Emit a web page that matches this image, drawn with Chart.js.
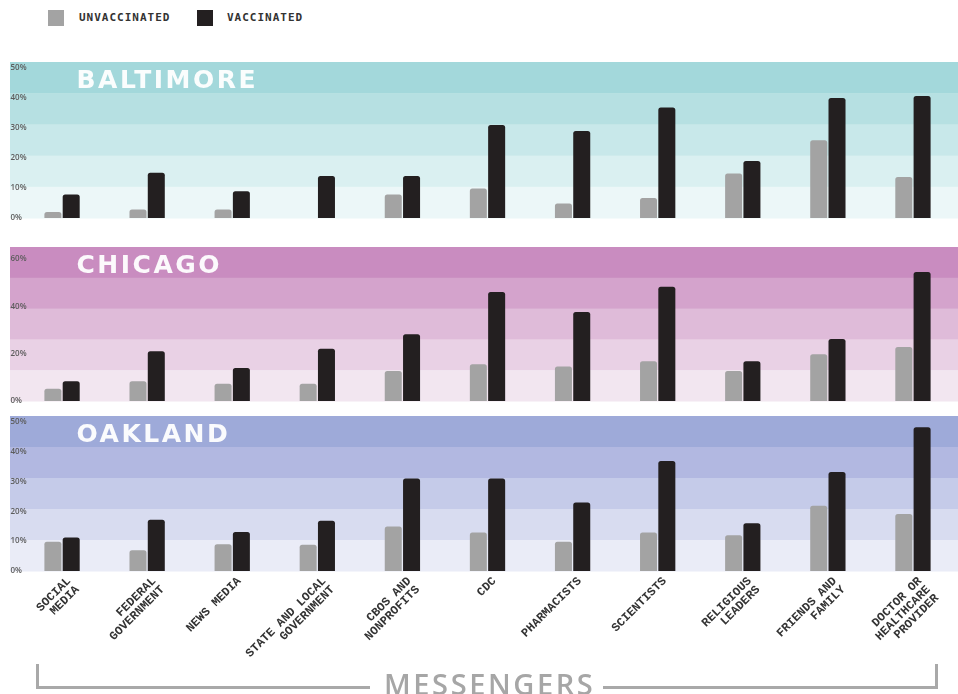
<!DOCTYPE html>
<html>
<head>
<meta charset="utf-8">
<title>Messengers by city</title>
<script src="https://cdn.jsdelivr.net/npm/chart.js@4.4.0/dist/chart.umd.min.js"></script>
<style>
    html, body { margin: 0; padding: 0; background: #fff; }
    body { width: 958px; height: 694px; position: relative; overflow: hidden; }

    .panel { position: absolute; left: 10px; width: 948px; }
    #baltimore-wrap { top: 54px; height: 176px; }
    #chicago-wrap { top: 239px; height: 174px; }
    #oakland-wrap { top: 408px; height: 286px; }

    .legend-box { position: absolute; top: 10px; width: 16px; height: 16px; }
    .legend-text {
        position: absolute; top: 11px; line-height: 14px;
        font: bold 11px "DejaVu Sans Mono", monospace;
        letter-spacing: 1px; color: #333;
    }

    .bracket { position: absolute; top: 664px; height: 22px; border-bottom: 3px solid #a9a9a9; }
    .bracket.left { left: 36px; width: 331px; border-left: 3px solid #a9a9a9; }
    .bracket.right { left: 603px; width: 332px; border-right: 3px solid #a9a9a9; }
    .axis-title {
        position: absolute; left: 384px; top: 664px; line-height: 29px;
        font: 600 29px "Open Sans", sans-serif; letter-spacing: 2.6px; color: #a6a6a6;
    }
</style>
</head>
<body>
    <div class="legend-box" style="left:48px; background:#a3a3a3"></div>
    <div class="legend-text" style="left:79px">UNVACCINATED</div>
    <div class="legend-box" style="left:197px; background:#231f20"></div>
    <div class="legend-text" style="left:227px">VACCINATED</div>

    <div class="panel" id="baltimore-wrap"><canvas id="baltimore-chart"></canvas></div>
    <div class="panel" id="chicago-wrap"><canvas id="chicago-chart"></canvas></div>
    <div class="panel" id="oakland-wrap"><canvas id="oakland-chart"></canvas></div>

    <div class="bracket left"></div>
    <div class="axis-title">MESSENGERS</div>
    <div class="bracket right"></div>

<script>
'use strict';

// Categories (x axis)
const messengers = [
    ['SOCIAL', 'MEDIA'],
    ['FEDERAL', 'GOVERNMENT'],
    'NEWS MEDIA',
    ['STATE AND LOCAL', 'GOVERNMENT'],
    ['CBOS AND', 'NONPROFITS'],
    'CDC',
    'PHARMACISTS',
    'SCIENTISTS',
    ['RELIGIOUS', 'LEADERS'],
    ['FRIENDS AND', 'FAMILY'],
    ['DOCTOR OR', 'HEALTHCARE', 'PROVIDER']
];

// Percent trusting each messenger
const baltimoreUnvaccinated = [2.0, 2.8, 2.8, 0, 7.8, 9.8, 4.8, 6.7, 14.8, 25.9, 13.7];
const baltimoreVaccinated   = [7.8, 15.1, 8.9, 14.0, 14.0, 31.0, 29.0, 36.8, 19.0, 40.0, 40.7];

const chicagoUnvaccinated = [5.2, 8.3, 7.3, 7.3, 12.7, 15.5, 14.6, 16.8, 12.7, 19.7, 22.8];
const chicagoVaccinated   = [8.3, 21.0, 13.9, 22.1, 28.2, 46.0, 37.6, 48.2, 16.8, 26.2, 54.5];

const oaklandUnvaccinated = [9.8, 7.0, 9.0, 8.8, 14.9, 12.9, 9.8, 12.9, 12.0, 21.9, 19.1];
const oaklandVaccinated   = [11.2, 17.2, 13.1, 16.9, 31.0, 31.0, 23.0, 36.9, 16.0, 33.2, 48.2];

// Y tick labels
const baltimoreTicks = [0, 10, 20, 30, 40, 50];
const chicagoTicks = [0, 20, 40, 60];
const oaklandTicks = [0, 10, 20, 30, 40, 50];

// Background stripes, top to bottom
const baltimoreBands = ['#a3d8db', '#b6e0e2', '#c8e8ea', '#daf0f1', '#ecf7f8'];
const chicagoBands = ['#c98cc0', '#d4a3cc', '#dfbbd9', '#e9d1e5', '#f2e6f0'];
const oaklandBands = ['#9eaad9', '#b2b8e1', '#c5cbe9', '#d8dcf0', '#eaecf7'];

const UNVAX_COLOR = '#a3a3a3';
const VAX_COLOR = '#231f20';

// Striped background behind each panel
const bandsPlugin = {
    id: 'bands',
    beforeDraw: function(chart, args, opts) {
        const ctx = chart.ctx;
        const area = chart.chartArea;
        const h = (area.bottom - area.top) / opts.colors.length;
        ctx.save();
        opts.colors.forEach(function(color, i) {
            ctx.fillStyle = color;
            ctx.fillRect(0, area.top + i * h, chart.width, h + 0.5);
        });
        ctx.restore();
    }
};

// Big white city name in the top stripe
const cityTitlePlugin = {
    id: 'cityTitle',
    beforeDatasetsDraw: function(chart, args, opts) {
        const ctx = chart.ctx;
        const area = chart.chartArea;
        ctx.save();
        ctx.font = 'bold 25px "DejaVu Sans", sans-serif';
        ctx.letterSpacing = '2.5px';
        ctx.fillStyle = 'rgba(255,255,255,0.95)';
        ctx.textBaseline = 'alphabetic';
        ctx.textAlign = 'left';
        ctx.fillText(opts.text, area.left + 57, area.top + 26);
        ctx.restore();
    }
};

function createCityChart(canvasId, city, unvaccinated, vaccinated, yMax, tickValues, bands, showLabels) {
    const ctx = document.getElementById(canvasId).getContext('2d');

    const xScale = {
        offset: true,
        grid: { display: false },
        border: { display: false },
        display: showLabels
    };
    if (showLabels) {
        xScale.ticks = {
            autoSkip: false,
            maxRotation: 45,
            minRotation: 45,
            padding: -4,
            labelOffset: 7,
            color: '#333',
            font: { family: '"Liberation Mono", monospace', size: 12, weight: 'bold', lineHeight: 1.0 }
        };
        xScale.afterFit = function(scale) { scale.height = 123; };
    }

    return new Chart(ctx, {
        type: 'bar',
        data: {
            labels: messengers,
            datasets: [
                { label: 'UNVACCINATED', data: unvaccinated, backgroundColor: UNVAX_COLOR },
                { label: 'VACCINATED', data: vaccinated, backgroundColor: VAX_COLOR }
            ]
        },
        options: {
            responsive: true,
            maintainAspectRatio: false,
            animation: false,
            layout: { padding: { top: 8, right: 2.5, bottom: showLabels ? 0 : 12, left: 0 } },
            datasets: {
                bar: {
                    categoryPercentage: 0.43,
                    barPercentage: 0.93,
                    borderRadius: { topLeft: 2.5, topRight: 2.5 },
                    borderSkipped: 'bottom'
                }
            },
            scales: {
                x: xScale,
                y: {
                    min: 0,
                    max: yMax,
                    grid: { display: false, drawTicks: false },
                    border: { display: false },
                    afterBuildTicks: function(scale) {
                        scale.ticks = tickValues.map(function(v) { return { value: v }; });
                    },
                    afterFit: function(scale) { scale.width = 9.5; },
                    ticks: {
                        // mirrored so the labels are not clipped to the thin axis box
                        mirror: true,
                        padding: -9,
                        color: '#5c5c5c',
                        font: { family: '"Open Sans", sans-serif', size: 8, weight: '600' },
                        callback: function(value) { return value + '%'; }
                    }
                }
            },
            plugins: {
                legend: { display: false },
                tooltip: { enabled: false },
                bands: { colors: bands },
                cityTitle: { text: city }
            }
        },
        plugins: [bandsPlugin, cityTitlePlugin]
    });
}

createCityChart('baltimore-chart', 'BALTIMORE', baltimoreUnvaccinated, baltimoreVaccinated, 52, baltimoreTicks, baltimoreBands, false);
createCityChart('chicago-chart', 'CHICAGO', chicagoUnvaccinated, chicagoVaccinated, 65, chicagoTicks, chicagoBands, false);
createCityChart('oakland-chart', 'OAKLAND', oaklandUnvaccinated, oaklandVaccinated, 52, oaklandTicks, oaklandBands, true);
</script>
</body>
</html>
